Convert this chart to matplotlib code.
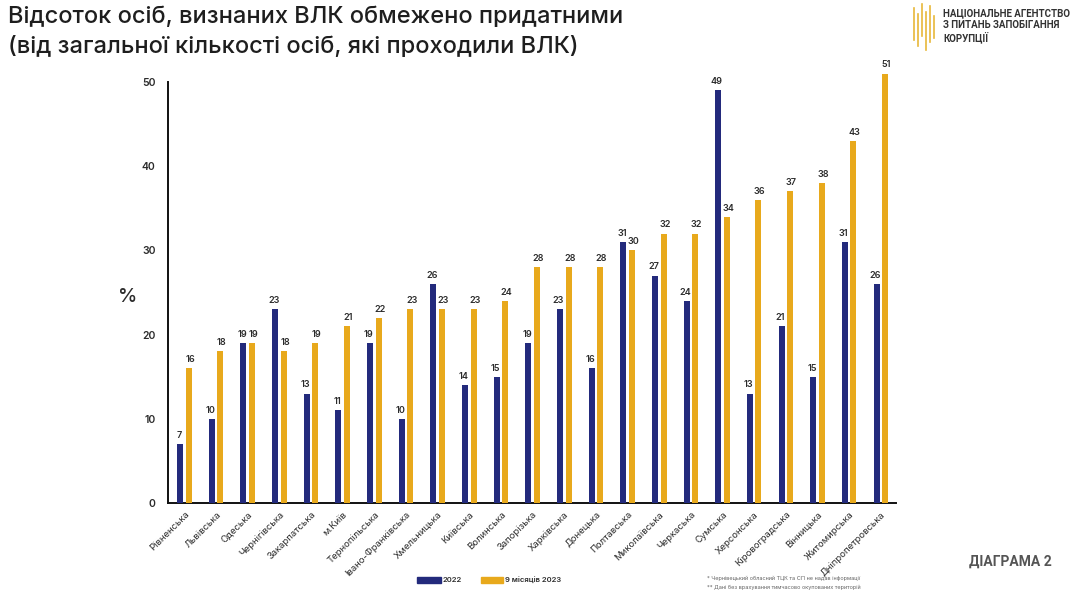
import matplotlib
matplotlib.use("Agg")
import matplotlib.pyplot as plt
from matplotlib.lines import Line2D
from matplotlib.patches import Rectangle
import numpy as np

plt.rcParams['font.family'] = ['Inter', 'DejaVu Sans']

regions = ["Рівненська", "Львівська", "Одеська", "Чернігівська", "Закарпатська",
           "м.Київ", "Тернопільська", "Івано-Франківська", "Хмельницька", "Київська",
           "Волинська", "Запорізька", "Харківська", "Донецька", "Полтавська",
           "Миколаївська", "Черкаська", "Сумська", "Херсонська", "Кіровоградська",
           "Вінницька", "Житомирська", "Дніпропетровська"]
values_2022 = [7, 10, 19, 23, 13, 11, 19, 10, 26, 14, 15, 19, 23, 16, 31, 27, 24, 49, 13, 21, 15, 31, 26]
values_2023 = [16, 18, 19, 18, 19, 21, 22, 23, 23, 23, 24, 28, 28, 28, 30, 32, 32, 34, 36, 37, 38, 43, 51]
yticks = [0, 10, 20, 30, 40, 50]
legend_labels = ["2022", "9 місяців 2023"]

BLUE = "#232a7c"
GOLD = "#e8a91c"
TXT = "#2b2b2b"

fig = plt.figure(figsize=(10.72, 6.03), dpi=100)
ax = fig.add_axes([168/1072, 1-503/603, (896-168)/1072, (503-82)/603])

n = len(regions)
x = np.arange(n)
w = 0.19
off = 0.135
ax.bar(x - off, values_2022, width=w, color=BLUE, clip_on=False, zorder=3)
ax.bar(x + off, values_2023, width=w, color=GOLD, clip_on=False, zorder=3)

for xs, vals, dx in [(x - off, values_2022, -1.0), (x + off, values_2023, 1.0)]:
    for xi, v in zip(xs, vals):
        ax.annotate(str(v), (xi, v), xytext=(dx, 3), textcoords="offset points",
                    ha="center", va="bottom", fontsize=6.5, color=TXT,
                    fontweight="semibold", annotation_clip=False)

ax.set_xlim(-0.52, n - 1 + 0.48)
ax.set_ylim(0, 50)
ax.set_yticks(yticks)
ax.set_yticklabels([str(t) for t in yticks], fontsize=7.5, color=TXT, fontweight="semibold")
ax.tick_params(axis="y", length=0, pad=9)
ax.set_xticks(x)
ax.set_xticklabels(regions, rotation=45, ha="right", rotation_mode="anchor",
                   fontsize=6.8, color=TXT)
ax.tick_params(axis="x", length=0, pad=5)
for s in ["top", "right"]:
    ax.spines[s].set_visible(False)
for s in ["left", "bottom"]:
    ax.spines[s].set_linewidth(1.4)
    ax.spines[s].set_color("#111111")
ax.set_ylabel("%", fontsize=14, rotation=0, color=TXT, va="center", fontweight="medium")
ax.yaxis.set_label_coords(-0.055, 0.49)

# Title
fig.text(8/1072, 1-17/603, "Відсоток осіб, визнаних ВЛК обмежено придатними",
         fontsize=17, color="#1e1e1e", va="center", ha="left", fontweight="medium")
fig.text(8/1072, 1-47/603, "(від загальної кількості осіб, які проходили ВЛК)",
         fontsize=17, color="#1e1e1e", va="center", ha="left", fontweight="medium")

# Legend
fig.patches.append(Rectangle((417/1072, 1-583/603), 24/1072, 6/603, transform=fig.transFigure,
                             color=BLUE))
fig.text(443/1072, 1-580/603, legend_labels[0], fontsize=5.5, color=TXT, va="center",
         fontweight="semibold")
fig.patches.append(Rectangle((481/1072, 1-583/603), 22/1072, 6/603, transform=fig.transFigure,
                             color=GOLD))
fig.text(505/1072, 1-580/603, legend_labels[1], fontsize=5.5, color=TXT, va="center",
         fontweight="semibold")

# Footnotes
fig.text(707/1072, 1-578/603, "* Чернівецький обласний ТЦК та СП не надав інформації",
         fontsize=4, color="#666666", va="center")
fig.text(707/1072, 1-587/603, "** Дані без врахування тимчасово окупованих територій",
         fontsize=4, color="#666666", va="center")

# Diagram label
fig.text(1052/1072, 1-562/603, "ДІАГРАМА 2", fontsize=10, color="#555555",
         ha="right", va="center", fontweight="bold", family="Roboto")

# Logo
for lx, y0, y1 in [(914, 8, 40), (918, 14, 46), (922, 4, 36), (926, 12, 50), (930, 6, 42), (934, 16, 38)]:
    fig.add_artist(Line2D([lx/1072, lx/1072], [1-y0/603, 1-y1/603], transform=fig.transFigure,
                          color="#e8b83a", lw=1.2))
for i, t in enumerate(["НАЦІОНАЛЬНЕ АГЕНТСТВО", "З ПИТАНЬ ЗАПОБІГАННЯ", "КОРУПЦІЇ"]):
    fig.text(943/1072, 1-(13 + i*12)/603, t, fontsize=7, color="#333333",
             va="center", ha="left", fontweight="bold", family="Roboto")

fig.savefig("out.png", dpi=100, facecolor="white")
